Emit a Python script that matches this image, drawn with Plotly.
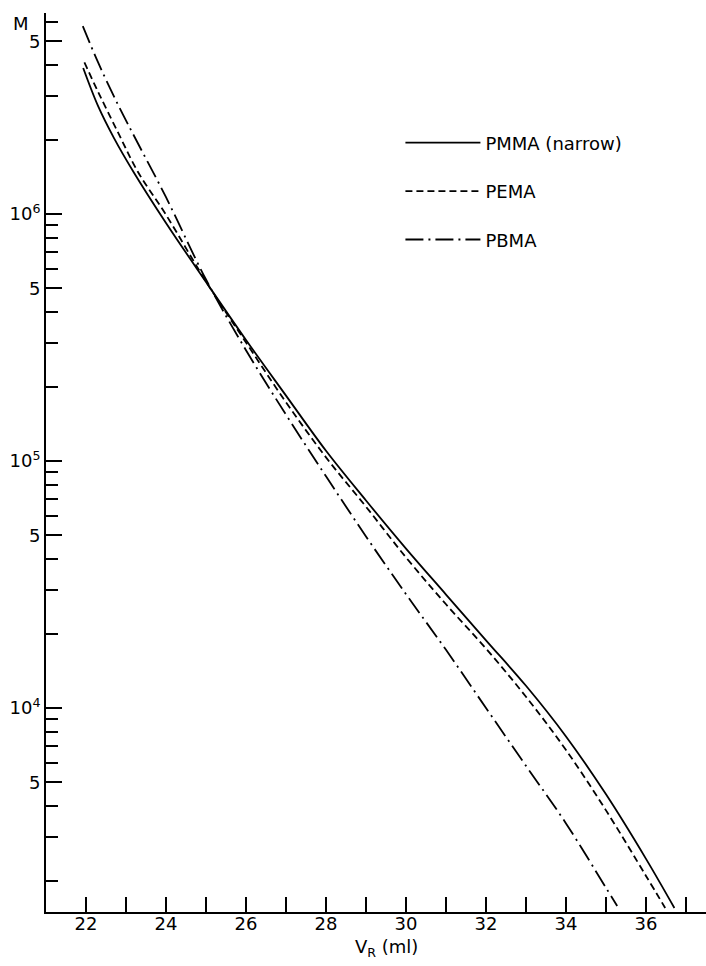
import plotly.graph_objects as go

# ---- data ----
pmma_vr = [21.93, 22.3, 22.7, 23.2, 24.0, 25.0, 26.0, 27.0, 28.0, 29.0,
           30.0, 31.0, 32.0, 33.0, 34.0, 35.0, 36.0, 36.71]
pmma_m = [3.90e6, 2.74e6, 2.03e6, 1.47e6, 9.20e5, 5.31e5, 3.09e5, 1.84e5, 1.10e5, 6.92e4,
          4.42e4, 2.88e4, 1.88e4, 1.23e4, 7.67e3, 4.47e3, 2.45e3, 1.55e3]

pema_vr = [21.96, 22.3, 22.8, 23.3, 24.0, 25.0, 26.0, 27.0, 28.0, 29.0,
           30.0, 31.0, 32.0, 33.0, 34.0, 35.0, 36.0, 36.48]
pema_m = [4.11e6, 3.13e6, 2.14e6, 1.48e6, 9.93e5, 5.33e5, 3.02e5, 1.73e5, 1.035e5, 6.53e4,
          4.07e4, 2.63e4, 1.74e4, 1.11e4, 6.76e3, 3.85e3, 2.09e3, 1.55e3]

pbma_vr = [21.92, 22.3, 22.8, 23.3, 24.0, 25.0, 26.0, 27.0, 28.0, 29.0,
           30.0, 31.0, 32.0, 33.0, 34.0, 35.0, 35.28]
pbma_m = [5.77e6, 4.12e6, 2.77e6, 1.93e6, 1.17e6, 5.43e5, 2.81e5, 1.54e5, 8.67e4, 4.95e4,
          2.89e4, 1.72e4, 1.00e4, 5.83e3, 3.41e3, 1.87e3, 1.58e3]

x_tick_vals = list(range(22, 38))
x_tick_text = [str(v) if v % 2 == 0 else "" for v in x_tick_vals]

y_major_vals = [5e3, 1e4, 5e4, 1e5, 5e5, 1e6, 5e6]
y_major_text = ["5", "10<sup>4</sup>", "5", "10<sup>5</sup>", "5", "10<sup>6</sup>", "5"]
y_minor_vals = [2e3, 3e3, 4e3, 6e3, 7e3, 8e3, 9e3,
                2e4, 3e4, 4e4, 6e4, 7e4, 8e4, 9e4,
                2e5, 3e5, 4e5, 6e5, 7e5, 8e5, 9e5,
                2e6, 3e6, 4e6, 6e6]

FONT = "DejaVu Sans"
LW = 1.8

fig = go.Figure()
fig.add_trace(go.Scatter(x=pmma_vr, y=pmma_m, mode="lines", name="PMMA (narrow)",
                         legendgroup="a", line=dict(color="black", width=LW, shape="spline")))
fig.add_trace(go.Scatter(x=pema_vr, y=pema_m, mode="lines", name="PEMA",
                         legendgroup="b", line=dict(color="black", width=LW, shape="spline",
                                                     dash="7px,4px")))
fig.add_trace(go.Scatter(x=pbma_vr, y=pbma_m, mode="lines", name="PBMA",
                         legendgroup="c", line=dict(color="black", width=LW, shape="spline",
                                                     dash="18px,5px,2px,5px")))

fig.update_layout(
    width=706, height=966,
    margin=dict(l=46, r=0, t=13, b=54),
    paper_bgcolor="white", plot_bgcolor="white",
    font=dict(family=FONT, size=18, color="black"),
    showlegend=True,
    legend=dict(x=0.537, y=0.876, xanchor="left", yanchor="top",
                bgcolor="rgba(0,0,0,0)", borderwidth=0,
                itemwidth=75, tracegroupgap=22,
                font=dict(family=FONT, size=18, color="black")),
    xaxis=dict(range=[21, 37.5], showgrid=False, zeroline=False,
               showline=True, linecolor="black", linewidth=2,
               ticks="inside", ticklen=15, tickwidth=2, tickcolor="black",
               tickmode="array", tickvals=x_tick_vals, ticktext=x_tick_text,
               ticklabelstandoff=-6,
               tickfont=dict(family=FONT, size=18)),
    yaxis=dict(type="log", range=[3.174, 6.814], showgrid=False, zeroline=False,
               showline=True, linecolor="black", linewidth=2,
               ticks="inside", ticklen=16, tickwidth=2, tickcolor="black",
               tickmode="array", tickvals=y_major_vals, ticktext=y_major_text,
               tickfont=dict(family=FONT, size=18),
               minor=dict(tickmode="array", tickvals=y_minor_vals, ticks="inside",
                          ticklen=12, tickwidth=2, tickcolor="black", showgrid=False)),
    annotations=[
        dict(text="V<sub>R</sub> (ml)", xref="x", yref="paper", x=29.5, y=-0.040,
             xanchor="center", yanchor="middle", showarrow=False,
             font=dict(family=FONT, size=18)),
        dict(text="M", xref="paper", yref="paper", x=-0.038, y=0.988,
             xanchor="center", yanchor="middle", showarrow=False,
             font=dict(family=FONT, size=18)),
    ],
)

fig.write_html("out.html",
               config={"displayModeBar": False},
               post_script="document.body.style.margin='0';document.body.style.overflow='hidden';")
